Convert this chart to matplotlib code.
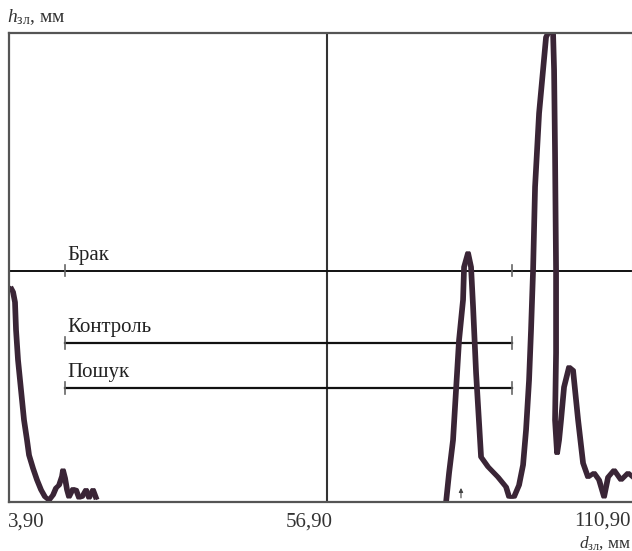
import numpy as np
import matplotlib.pyplot as plt

plt.rcParams['font.family'] = ['Liberation Serif', 'DejaVu Serif']
plt.rcParams['mathtext.fontset'] = 'custom'
plt.rcParams['mathtext.rm'] = 'Liberation Serif'
plt.rcParams['mathtext.it'] = 'Liberation Serif:italic'

# signal trace near the start of the scan
d_left = [4.07, 4.4, 4.73, 4.9, 5.23, 5.73, 6.23, 6.73, 7.07, 7.73, 8.4, 9.07, 9.73,
          10.4, 11.07, 11.57, 12.07, 12.57, 12.73, 13.07, 13.4, 13.73, 14.4, 14.9,
          15.4, 15.9, 16.57, 17.07, 17.73, 18.23]
h_left = [45.6, 44.8, 42.6, 36.7, 30.3, 23.9, 17.5, 13.2, 10.0, 7.2, 4.7, 2.6, 1.1,
          0.4, 1.5, 3.0, 3.6, 5.5, 6.8, 5.1, 2.6, 1.1, 2.8, 2.6,
          0.9, 1.1, 2.6, 0.9, 2.6, 0.9]

# signal trace with the two defect peaks
d_right = [76.57, 77.07, 77.73, 78.23, 78.73, 79.4, 79.57, 80.23, 80.73, 81.07, 81.57,
           82.07, 82.4, 83.57, 85.23, 86.57, 87.07, 87.9, 88.73, 89.4, 89.9, 90.4,
           90.73, 91.07, 91.4, 92.07, 92.73, 93.23, 93.57, 94.4, 94.57, 94.73, 94.9,
           94.9, 94.73, 95.07, 95.4, 95.73, 96.23, 97.07, 97.73, 98.57, 99.4, 100.23,
           101.23, 102.07, 102.9, 103.57, 104.57, 105.73, 106.9, 107.73]
h_right = [0.0, 6.2, 13.2, 23.9, 34.5, 43.1, 50.1, 53.1, 50.1, 41.6, 27.5,
           16.8, 9.6, 7.5, 5.3, 3.2, 1.1, 1.1, 3.6, 7.9, 15.4, 26.0,
           36.7, 49.5, 67.2, 82.9, 92.1, 99.1, 100.0, 100.0, 92.1, 74.4, 49.5,
           31.8, 17.5, 10.4, 13.2, 17.5, 24.5, 28.8, 28.1, 17.5, 8.3, 5.3,
           6.2, 4.7, 1.1, 5.3, 6.8, 4.7, 6.2, 5.3]

# threshold levels
level_names = ['Брак', 'Контроль', 'Пошук']
level_h = [49.3, 33.9, 24.3]
gate_start = 13.23
gate_end = 87.73

x_min, x_max = 3.9, 107.73
x_mid = 56.9
x_tick_labels = ['3,90', '56,90', '110,90']

fig = plt.figure(figsize=(6.32, 5.51), dpi=100)
ax = fig.add_axes([0.0142, 0.0889, 0.9858, 0.8512])
ax.set_xlim(x_min, x_max)
ax.set_ylim(0, 100)
ax.set_xticks([])
ax.set_yticks([])
for s in ['left', 'bottom', 'top']:
    ax.spines[s].set_color('#555555')
    ax.spines[s].set_linewidth(1.6)
ax.spines['right'].set_color('#cccccc')
ax.spines['right'].set_linewidth(0.8)

ax.axvline(x_mid, color='#333333', lw=1.5)

# levels: Брак goes across the whole field, the others only over the gate
for i, (name, lv) in enumerate(zip(level_names, level_h)):
    if i == 0:
        ax.axhline(lv, color='#111111', lw=1.4)
    else:
        ax.plot([gate_start, gate_end], [lv, lv], color='#111111', lw=1.6)
    ax.plot([gate_start, gate_start], [lv - 1.2, lv + 1.2], color='#666666', lw=1.2)
    ax.plot([gate_end, gate_end], [lv - 1.2, lv + 1.2], color='#666666', lw=1.2)
    ax.text(gate_start + 0.35, lv + 1.2, name, fontsize=15, color='#222222',
            ha='left', va='bottom')

# the recorder draws a doubled trace, so plot it twice slightly shifted
line_col = '#3a2536'
for shift in (0.0, 0.35):
    ax.plot(np.array(d_left) + shift, h_left, color=line_col, lw=2.6,
            solid_joinstyle='round')
    ax.plot(np.array(d_right) + shift, h_right, color=line_col, lw=2.6,
            solid_joinstyle='round')

ax.annotate('', xy=(79.23, 3.6), xytext=(79.23, 0.3),
            arrowprops=dict(arrowstyle='-|>', color='#444444', lw=0.8,
                            mutation_scale=6))

# axis labels as in the original print
fig.text(8 / 632, 1 - 522 / 551, x_tick_labels[0], fontsize=15, color='#333333',
         ha='left', va='center')
fig.text(333 / 632, 1 - 522 / 551, x_tick_labels[1], fontsize=15, color='#333333',
         ha='right', va='center')
fig.text(631 / 632, 1 - 521 / 551, x_tick_labels[2], fontsize=15, color='#333333',
         ha='right', va='center')
fig.text(631 / 632, 1 - 543 / 551, r'$d_{\mathrm{зл}}$, мм', fontsize=12.5,
         color='#333333', ha='right', va='center')
fig.text(7 / 632, 1 - 17 / 551, r'$h_{\mathrm{зл}}$, мм', fontsize=14,
         color='#333333', ha='left', va='center')

fig.savefig('out.png', dpi=100)
